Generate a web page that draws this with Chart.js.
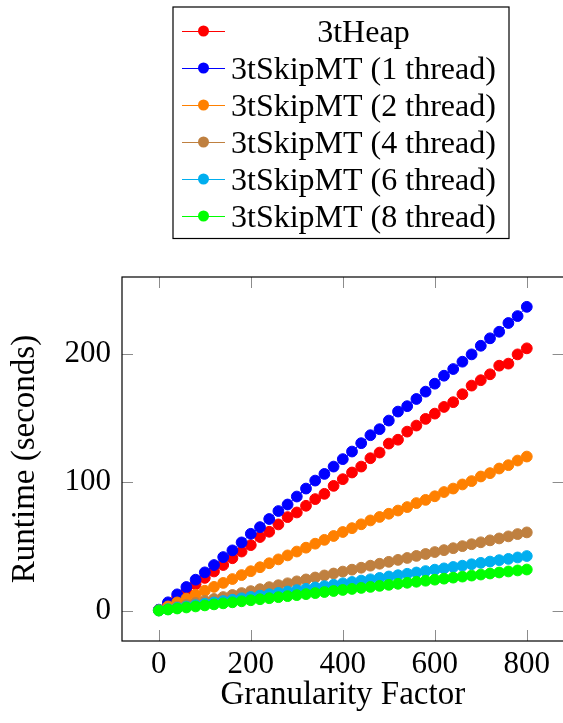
<!DOCTYPE html>
<html>
<head>
<meta charset="utf-8">
<title>Runtime vs Granularity Factor</title>
<script src="https://cdn.jsdelivr.net/npm/chart.js@4/dist/chart.umd.min.js"></script>
<style>
  html, body { margin: 0; padding: 0; background: #fff; overflow: hidden; }
  #wrap { position: relative; width: 570px; height: 723px; }
</style>
</head>
<body>
<div id="wrap"><canvas id="chart"></canvas></div>
<script>
// Granularity factor (x values)
const granularity = [0, 20, 40, 60, 80, 100, 120, 140, 160, 180, 200, 220, 240, 260, 280, 300, 320, 340, 360, 380,
  400, 420, 440, 460, 480, 500, 520, 540, 560, 580, 600, 620, 640, 660, 680, 700, 720, 740, 760, 780, 800];

// Runtime in seconds for each implementation
const heap3t = [0.5, 5.5, 10.5, 15.5, 20.5, 25.5, 30.5, 35.5, 40.8, 46.0, 51.0, 57.3, 61.4, 67.1, 72.8, 76.4, 81.6, 86.8, 90.9, 97.1,
  102.3, 107.5, 112.1, 118.6, 123.0, 130.0, 133.0, 139.3, 144.0, 149.2, 153.3, 158.5, 162.2, 168.4, 175.1, 179.3, 183.9, 190.6, 192.2, 199.4, 204.1];
const skip1 = [0.8, 6.5, 12.7, 18.4, 24.1, 29.8, 35.5, 41.7, 46.9, 53.1, 59.8, 65.0, 71.3, 77.5, 82.6, 88.8, 95.0, 101.2, 106.4, 112.1,
  117.9, 123.8, 130.3, 136.5, 141.2, 147.9, 154.9, 159.1, 164.7, 170.4, 176.6, 182.8, 188.0, 193.7, 199.4, 206.1, 211.9, 217.0, 223.8, 229.2, 236.4];
const skip2 = [0.3, 3.3, 6.4, 9.4, 12.4, 15.5, 18.5, 21.6, 24.6, 27.7, 30.7, 33.8, 36.9, 39.9, 43.0, 46.0, 49.0, 52.1, 55.1, 58.1,
  61.2, 64.2, 67.2, 70.2, 72.9, 75.4, 77.9, 80.6, 83.7, 86.2, 89.0, 92.3, 95.0, 98.2, 100.8, 104.4, 107.0, 110.6, 113.2, 116.8, 119.9];
const skip4 = [0.2, 1.6, 3.1, 4.6, 6.1, 7.6, 9.1, 10.6, 12.2, 13.7, 15.2, 16.7, 18.3, 19.8, 21.3, 22.8, 24.3, 25.8, 27.4, 28.9,
  30.4, 31.9, 33.4, 35.0, 36.5, 38.0, 39.5, 41.0, 42.6, 44.1, 45.6, 47.1, 48.6, 50.2, 51.7, 53.2, 54.7, 56.2, 57.8, 59.6, 60.9];
const skip6 = [0.2, 1.1, 2.2, 3.2, 4.3, 5.4, 6.4, 7.5, 8.5, 9.6, 10.7, 11.7, 12.8, 13.8, 14.9, 16.0, 17.0, 18.1, 19.1, 20.2,
  21.3, 22.3, 23.4, 24.4, 25.5, 26.6, 27.6, 28.7, 29.7, 30.8, 31.9, 32.9, 34.0, 35.0, 36.1, 37.2, 38.2, 39.3, 40.3, 41.4, 42.5];
const skip8 = [0.1, 0.9, 1.7, 2.5, 3.3, 4.1, 4.9, 5.7, 6.5, 7.3, 8.1, 8.9, 9.7, 10.5, 11.3, 12.1, 12.9, 13.7, 14.5, 15.3,
  16.1, 16.9, 17.7, 18.5, 19.3, 20.1, 20.9, 21.7, 22.5, 23.3, 24.1, 24.9, 25.7, 26.5, 27.3, 28.1, 28.9, 29.7, 30.5, 31.3, 32.0];

const seriesNames = ['3tHeap', '3tSkipMT (1 thread)', '3tSkipMT (2 thread)', '3tSkipMT (4 thread)', '3tSkipMT (6 thread)', '3tSkipMT (8 thread)'];
const seriesValues = [heap3t, skip1, skip2, skip4, skip6, skip8];
const seriesColors = ['#ff0000', '#0000ff', '#ff8000', '#bf8040', '#00aeef', '#00ff00'];

const xTicks = [0, 200, 400, 600, 800];
const yTicks = [0, 100, 200];

const SERIF = "'Liberation Serif', 'Times New Roman', serif";

const datasets = seriesNames.map((name, i) => ({
  label: name,
  data: granularity.map((g, j) => ({ x: g, y: seriesValues[i][j] })),
  borderColor: seriesColors[i],
  backgroundColor: seriesColors[i],
  pointBackgroundColor: seriesColors[i],
  pointBorderColor: seriesColors[i],
  borderWidth: 1,
  pointRadius: 5.4,
  pointBorderWidth: 1,
  tension: 0,
  order: seriesNames.length - i
}));

// Frame plus inward-pointing tick marks on all four sides
const frameTicks = {
  id: 'frameTicks',
  beforeDatasetsDraw(chart) {
    const { ctx, chartArea: a, scales: { x, y } } = chart;
    const len = 11;
    ctx.save();
    ctx.strokeStyle = '#8c8c8c';
    ctx.lineWidth = 1;
    ctx.beginPath();
    xTicks.forEach(v => {
      const px = Math.round(x.getPixelForValue(v)) + 0.5;
      ctx.moveTo(px, a.bottom); ctx.lineTo(px, a.bottom - len);
      ctx.moveTo(px, a.top); ctx.lineTo(px, a.top + len);
    });
    yTicks.forEach(v => {
      const py = Math.round(y.getPixelForValue(v)) + 0.5;
      ctx.moveTo(a.left, py); ctx.lineTo(a.left + len, py);
      ctx.moveTo(a.right, py); ctx.lineTo(a.right - len, py);
    });
    ctx.stroke();
    ctx.restore();
  },
  afterDraw(chart) {
    const { ctx, chartArea: a } = chart;
    ctx.save();
    ctx.strokeStyle = '#000';
    ctx.lineWidth = 1.2;
    ctx.strokeRect(a.left, a.top, a.right - a.left, a.bottom - a.top);
    ctx.restore();
  }
};

// Boxed legend above the axes: short line with a mark, then the series name
const boxedLegend = {
  id: 'boxedLegend',
  afterDraw(chart) {
    const { ctx } = chart;
    const box = { left: 173, top: 7, right: 509, bottom: 238.5 };
    const rowTop = 31, rowGap = 37;
    const lineX0 = 182, lineX1 = 225, textX = 231;
    ctx.save();
    ctx.fillStyle = '#fff';
    ctx.fillRect(box.left, box.top, box.right - box.left, box.bottom - box.top);
    ctx.strokeStyle = '#000';
    ctx.lineWidth = 1.2;
    ctx.strokeRect(box.left, box.top, box.right - box.left, box.bottom - box.top);
    ctx.font = '32px ' + SERIF;
    ctx.textBaseline = 'alphabetic';
    const widths = chart.data.datasets.map(d => ctx.measureText(d.label).width);
    const colW = Math.max(...widths);
    chart.data.datasets.forEach((d, i) => {
      const cy = rowTop + i * rowGap;
      ctx.strokeStyle = d.borderColor;
      ctx.lineWidth = 1;
      ctx.beginPath();
      ctx.moveTo(lineX0, cy + 0.5); ctx.lineTo(lineX1, cy + 0.5);
      ctx.stroke();
      ctx.fillStyle = d.borderColor;
      ctx.beginPath();
      ctx.arc((lineX0 + lineX1) / 2, cy, 5.5, 0, Math.PI * 2);
      ctx.fill();
      ctx.fillStyle = '#000';
      ctx.textAlign = 'center';
      ctx.fillText(d.label, textX + colW / 2, cy + 10.5);
    });
    ctx.restore();
  }
};

new Chart(document.getElementById('chart'), {
  type: 'line',
  data: { datasets },
  options: {
    responsive: true,
    maintainAspectRatio: false,
    animation: false,
    layout: { padding: { top: 277, left: 0, right: 6, bottom: 0 } },
    plugins: { legend: { display: false }, tooltip: { enabled: false } },
    scales: {
      x: {
        type: 'linear',
        min: -80,
        max: 880,
        afterBuildTicks: s => { s.ticks = xTicks.map(v => ({ value: v })); },
        afterFit: s => { s.height = 82; },
        grid: { display: false, drawTicks: false },
        border: { display: false },
        ticks: {
          padding: 5,
          maxRotation: 0,
          autoSkip: false,
          color: '#000',
          font: { family: SERIF, size: 31 }
        },
        title: {
          display: true,
          text: 'Granularity Factor',
          color: '#000',
          font: { family: SERIF, size: 33 },
          padding: { top: 0, bottom: 8 }
        }
      },
      y: {
        type: 'linear',
        min: -23.6,
        max: 259.6,
        afterBuildTicks: s => { s.ticks = yTicks.map(v => ({ value: v })); },
        afterFit: s => { s.width = 122; },
        grid: { display: false, drawTicks: false },
        border: { display: false },
        ticks: {
          padding: 11,
          autoSkip: false,
          color: '#000',
          font: { family: SERIF, size: 31 }
        },
        title: {
          display: true,
          text: 'Runtime (seconds)',
          color: '#000',
          font: { family: SERIF, size: 33 },
          padding: { top: 6, bottom: 0 }
        }
      }
    }
  },
  plugins: [frameTicks, boxedLegend]
});
</script>
</body>
</html>
